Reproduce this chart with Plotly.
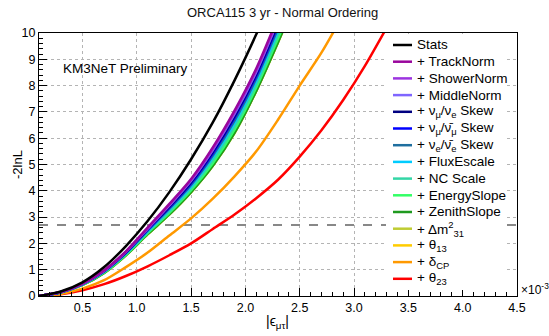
import plotly.graph_objects as go

# ---------------- data ----------------
eps = [0.1, 0.3, 0.5, 0.7, 0.9, 1.1, 1.3, 1.5, 1.7, 1.9, 2.1, 2.3, 2.5, 2.7, 2.9, 3.1, 3.3, 3.5]

stats        = [0, 0.17, 0.52, 1.10, 1.90, 2.85, 3.95, 5.20, 6.60, 8.20, 9.95, 11.85]
track_norm   = [0, 0.15, 0.47, 0.98, 1.70, 2.60, 3.50, 4.45, 5.65, 7.05, 8.65, 10.60, 12.60]
shower_norm  = [0, 0.15, 0.47, 0.97, 1.69, 2.58, 3.47, 4.41, 5.59, 6.98, 8.58, 10.52, 12.52]
middle_norm  = [0, 0.15, 0.46, 0.96, 1.68, 2.56, 3.44, 4.38, 5.55, 6.92, 8.52, 10.46, 12.45]
numu_nue     = [0, 0.145, 0.46, 0.955, 1.66, 2.54, 3.40, 4.33, 5.48, 6.84, 8.44, 10.36, 12.35]
numu_anumu   = [0, 0.14, 0.455, 0.95, 1.65, 2.52, 3.37, 4.29, 5.43, 6.78, 8.38, 10.30, 12.28]
nue_anue     = [0, 0.14, 0.45, 0.935, 1.63, 2.49, 3.32, 4.22, 5.34, 6.67, 8.27, 10.17, 12.15]
flux_escale  = [0, 0.14, 0.445, 0.925, 1.62, 2.46, 3.28, 4.17, 5.27, 6.58, 8.18, 10.08, 12.05]
nc_scale     = [0, 0.135, 0.435, 0.91, 1.595, 2.425, 3.22, 4.10, 5.16, 6.45, 8.05, 9.93, 11.90]
energy_slope = [0, 0.13, 0.43, 0.895, 1.57, 2.39, 3.16, 4.02, 5.05, 6.33, 7.93, 9.79, 11.75]
zenith_slope = [0, 0.13, 0.42, 0.88, 1.55, 2.35, 3.10, 3.95, 4.95, 6.20, 7.80, 9.65, 11.60]
dm31         = [0, 0.13, 0.42, 0.88, 1.55, 2.35, 3.10, 3.95, 4.95, 6.20, 7.80, 9.65, 11.60]
theta13      = [0, 0.13, 0.42, 0.88, 1.55, 2.35, 3.10, 3.95, 4.95, 6.20, 7.80, 9.65, 11.60]
delta_cp     = [0, 0.08, 0.28, 0.60, 1.10, 1.65, 2.30, 2.95, 3.70, 4.55, 5.50, 6.70, 8.00, 9.25, 10.70]
theta23      = [0, 0.07, 0.22, 0.45, 0.76, 1.13, 1.55, 2.00, 2.55, 3.10, 3.72, 4.42, 5.30, 6.30, 7.45, 8.75, 10.20, 11.70]

threshold = 2.7

labels = ["Stats", "+ TrackNorm", "+ ShowerNorm", "+ MiddleNorm",
          "+ ν<sub>μ</sub>/ν<sub>e</sub> Skew", "+ ν<sub>μ</sub>/ν\u0304<sub>μ</sub> Skew",
          "+ ν<sub>e</sub>/ν\u0304<sub>e</sub> Skew", "+ FluxEscale", "+ NC Scale",
          "+ EnergySlope", "+ ZenithSlope", "+ Δm<sup>2</sup><sub>31</sub>",
          "+ θ<sub>13</sub>", "+ δ<sub>CP</sub>", "+ θ<sub>23</sub>"]
series = [stats, track_norm, shower_norm, middle_norm, numu_nue, numu_anumu, nue_anue,
          flux_escale, nc_scale, energy_slope, zenith_slope, dm31, theta13, delta_cp, theta23]
colors = ["#000000", "#99069c", "#9c33e0", "#7f66ff", "#000080", "#0000ff", "#1f6f9f",
          "#00ccff", "#33d6a6", "#33ff66", "#1f9a1f", "#bfcc33", "#ffcc00", "#ff9900", "#ff0000"]

# ---------------- geometry (pixels) ----------------
W, H = 549, 336
L, R, T, B = 39, 517, 33, 296

def px(x):
    return (x - L) / (R - L)

def py(y):
    return (B - y) / (B - T)

fig = go.Figure()

fig.add_trace(go.Scatter(x=[eps[0], 4.5], y=[threshold, threshold], mode="lines",
                         line=dict(color="#888888", width=2, dash="dash"),
                         showlegend=False, hoverinfo="skip"))

for name, ys, c in reversed(list(zip(labels, series, colors))):
    fig.add_trace(go.Scatter(x=eps[:len(ys)], y=ys, mode="lines", name=name,
                             line=dict(color=c, width=2.5, shape="spline", smoothing=0.8),
                             showlegend=False))

FONT = "Liberation Sans, Arial, sans-serif"

fig.update_layout(
    width=W, height=H,
    margin=dict(l=L, r=W - R, t=T, b=H - B),
    paper_bgcolor="white", plot_bgcolor="white",
    font=dict(family=FONT, size=12, color="#000000"),
    showlegend=False,
)

fig.update_xaxes(range=[0.1, 4.5], tick0=0, dtick=0.5, tickformat=".1f",
                 ticks="inside", ticklen=8, tickcolor="black",
                 minor=dict(ticks="inside", ticklen=4, dtick=0.1, tick0=0, tickcolor="black", showgrid=False),
                 showline=True, linecolor="black", linewidth=1, mirror=True,
                 showgrid=True, gridcolor="#b4b4b4", griddash="dot", gridwidth=1,
                 zeroline=False, tickfont=dict(size=12.5, family=FONT))
fig.update_yaxes(range=[0, 10], tick0=0, dtick=1,
                 ticks="inside", ticklen=8, tickcolor="black",
                 minor=dict(ticks="inside", ticklen=4, dtick=0.2, tick0=0, tickcolor="black", showgrid=False),
                 showline=True, linecolor="black", linewidth=1, mirror=True,
                 showgrid=True, gridcolor="#b4b4b4", griddash="dot", gridwidth=1,
                 zeroline=False, tickfont=dict(size=12.5, family=FONT))

shapes = []
annotations = []

# legend background
shapes.append(dict(type="rect", xref="paper", yref="paper", x0=px(386), x1=px(504),
                   y0=py(290), y1=py(34), fillcolor="white", line=dict(width=0), layer="above"))
for i, (name, c) in enumerate(zip(labels, colors)):
    yc = 45 + 16.7 * i
    shapes.append(dict(type="line", xref="paper", yref="paper", x0=px(393), x1=px(412),
                       y0=py(yc), y1=py(yc), line=dict(color=c, width=2.5), layer="above"))
    annotations.append(dict(text=name, xref="paper", yref="paper", x=px(415), y=py(yc),
                            xanchor="left", yanchor="middle", showarrow=False,
                            font=dict(size=13.5, family=FONT, color="black")))

annotations += [
    dict(text="ORCA115 3 yr - Normal Ordering", xref="paper", yref="paper",
         x=px(282), y=py(12), xanchor="center", yanchor="middle", showarrow=False,
         font=dict(size=13, family=FONT, color="#111111")),
    dict(text="-2lnL", xref="paper", yref="paper", x=px(17), y=py(165), textangle=-90,
         xanchor="center", yanchor="middle", showarrow=False,
         font=dict(size=13, family=FONT, color="black")),
    dict(text="|ϵ<sub>μτ</sub>|", xref="paper", yref="paper", x=px(277), y=py(322),
         xanchor="center", yanchor="middle", showarrow=False,
         font=dict(size=14, family=FONT, color="black")),
    dict(text="×10<sup>-3</sup>", xref="paper", yref="paper", x=px(519), y=py(289),
         xanchor="left", yanchor="middle", showarrow=False,
         font=dict(size=12, family=FONT, color="black")),
    dict(text="KM3NeT Preliminary", xref="paper", yref="paper", x=px(61), y=py(68),
         xanchor="left", yanchor="middle", showarrow=False,
         font=dict(size=13.5, family=FONT, color="black")),
]

fig.update_layout(shapes=shapes, annotations=annotations)

fig.write_html("out.html")
